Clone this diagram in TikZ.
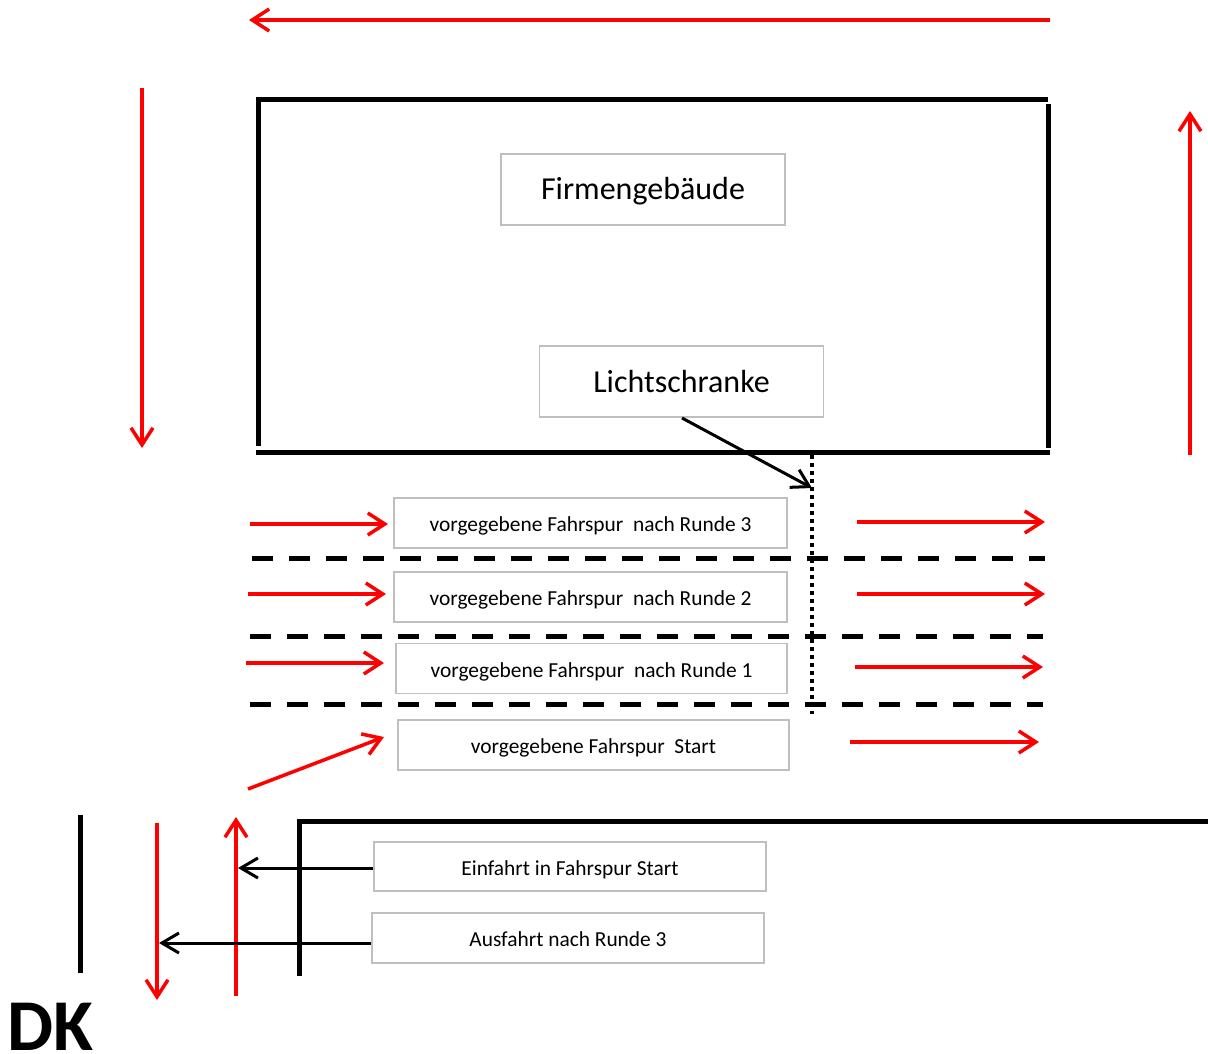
\documentclass[tikz,border=0pt]{standalone}
\usepackage{fontspec}
\setmainfont{Carlito}
\usetikzlibrary{arrows.meta}
\definecolor{boxgray}{RGB}{191,191,191}
\tikzset{
  redarrow/.style={draw=red, line width=3.5pt, -{Straight Barb[length=17pt,width=22pt,line width=3.5pt]}},
  blackarrow/.style={draw=black, line width=3pt, -{Straight Barb[length=17pt,width=20pt,line width=3pt]}},
  wall/.style={draw=black, line width=5pt},
  lanebox/.style={draw=boxgray, line width=1.8pt, minimum width=393pt, minimum height=50pt, inner sep=0pt, text height=17.4pt, text depth=0pt, font=\fontsize{21.4}{24}\selectfont, text=black},
  bigbox/.style={draw=boxgray, line width=1.8pt, minimum width=284pt, minimum height=71pt, inner sep=0pt, text height=21pt, text depth=0pt, font=\fontsize{32}{36}\selectfont, text=black},
  lanedash/.style={draw=black, line width=5pt, dash pattern=on 21pt off 16pt},
  dotline/.style={draw=black, line width=4pt, dash pattern=on 4pt off 4pt}
}
\begin{document}
\begin{tikzpicture}[x=1pt,y=-1pt]
\useasboundingbox (0,0) rectangle (1208,1054);

% outer red circulation arrows
\coordinate (t1) at (1050,20); \coordinate (t2) at (249,20);
\draw[redarrow] (t1) -- (t2);
\coordinate (l1) at (142,88); \coordinate (l2) at (142,448);
\draw[redarrow] (l1) -- (l2);
\coordinate (r1) at (1190,455); \coordinate (r2) at (1190,111);
\draw[redarrow] (r1) -- (r2);

% building
\coordinate (b1) at (258,100); \coordinate (b2) at (1048,100);
\draw[wall] (256,100) -- (b2);
\draw[wall] (b1) -- (258,446);
\draw[wall] (1048,104) -- (1048,448);
\draw[wall] (256,452) -- (1050,452);

\node[bigbox] (firma) at (643,189.5) {Firmengebäude};
\node[bigbox] (licht) at (681.5,381.5) {Lichtschranke};

% light barrier
\coordinate (d1) at (812,455); \coordinate (d2) at (812,714);
\draw[dotline] (d1) -- (d2);
\coordinate (lt) at (812,488);
\draw[blackarrow] (682,418) -- (lt);

% lanes
\node[lanebox] (lane3) at (590.5,523) {vorgegebene Fahrspur\ \ nach Runde 3};
\node[lanebox] (lane2) at (590.5,597) {vorgegebene Fahrspur\ \ nach Runde 2};
\node[lanebox, minimum width=391pt] (lane1) at (591.5,668.5) {vorgegebene Fahrspur\ \ nach Runde 1};
\node[lanebox, minimum width=391pt] (lane0) at (593.5,745) {vorgegebene Fahrspur\ \ Start};

\draw[lanedash] (252,558) -- (1045,558);
\draw[lanedash] (250,636) -- (1043,636);
\draw[lanedash] (250,704) -- (1043,704);

\coordinate (a3s) at (250,524); \coordinate (a3e) at (388,524);
\coordinate (a2s) at (248,594); \coordinate (a2e) at (386,594);
\coordinate (a1s) at (246,663); \coordinate (a1e) at (384,663);
\coordinate (a0s) at (248,789); \coordinate (a0e) at (384,737);
\draw[redarrow] (a3s) -- (a3e);
\draw[redarrow] (a2s) -- (a2e);
\draw[redarrow] (a1s) -- (a1e);
\draw[redarrow] (a0s) -- (a0e);

\coordinate (e3s) at (857,522); \coordinate (e3e) at (1045,522);
\coordinate (e2s) at (857,594); \coordinate (e2e) at (1045,594);
\coordinate (e1s) at (855,667); \coordinate (e1e) at (1043,667);
\coordinate (e0s) at (850,742); \coordinate (e0e) at (1039,742);
\draw[redarrow] (e3s) -- (e3e);
\draw[redarrow] (e2s) -- (e2e);
\draw[redarrow] (e1s) -- (e1e);
\draw[redarrow] (e0s) -- (e0e);

% entrance area
\draw[wall] (80,815) -- (80,973);
\draw[wall] (299,976) -- (299,821.5) -- (1208,821.5);

\coordinate (dn1) at (157,823); \coordinate (dn2) at (157,1000);
\draw[redarrow] (dn1) -- (dn2);
\coordinate (up1) at (236,996); \coordinate (up2) at (236,817);
\draw[redarrow] (up1) -- (up2);

\node[lanebox, minimum width=392pt, minimum height=49pt] (ein) at (570,866.5) {Einfahrt in Fahrspur Start};
\node[lanebox, minimum width=392pt] (aus) at (568,938) {Ausfahrt nach Runde 3};
\coordinate (einT) at (238,868);
\coordinate (ausT) at (159,943);
\draw[blackarrow] (ein.west |- einT) -- (einT);
\draw[blackarrow] (aus.west |- ausT) -- (ausT);

\node[font=\fontsize{73}{73}\selectfont\bfseries, anchor=base west, inner sep=0pt] (dk) at (7,1050) {DK};
\end{tikzpicture}
\end{document}
